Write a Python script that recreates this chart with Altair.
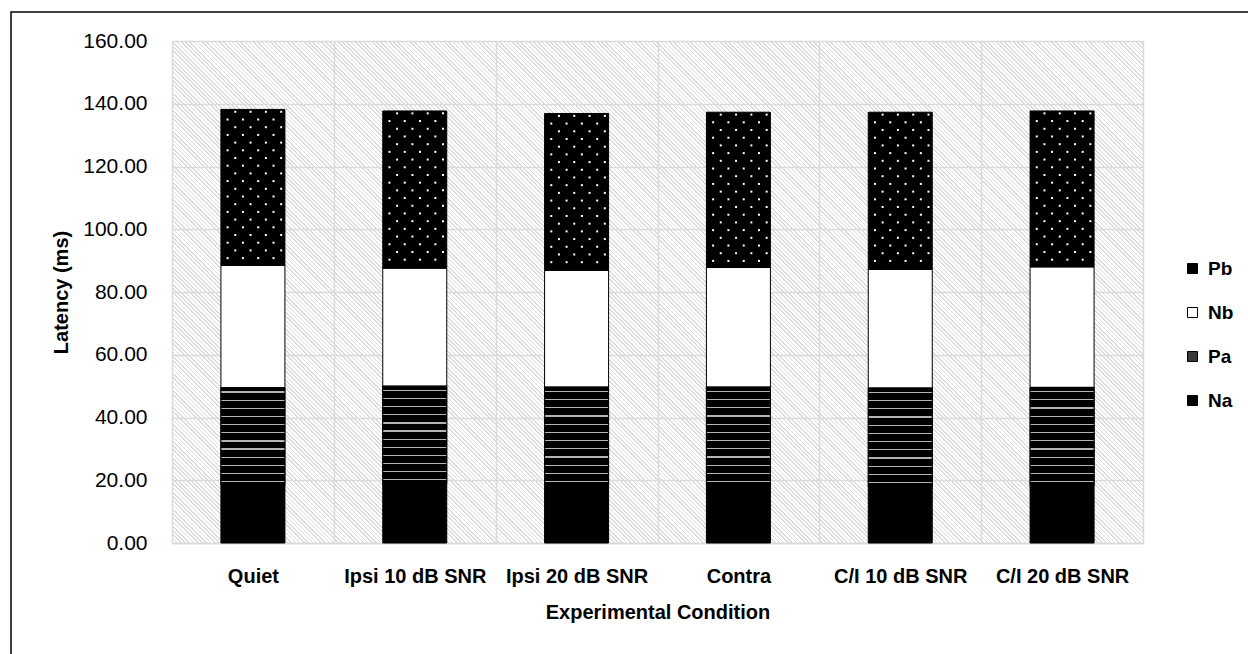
import altair as alt
import pandas as pd
import numpy as np

# ---------------- data ----------------
conditions = ["Quiet", "Ipsi 10 dB SNR", "Ipsi 20 dB SNR", "Contra", "C/I 10 dB SNR", "C/I 20 dB SNR"]
components = ["Na", "Pa", "Nb", "Pb"]
na_vals = [18.3, 18.9, 18.3, 18.3, 18.0, 18.3]
pa_vals = [31.2, 31.1, 31.4, 31.4, 31.4, 31.3]
nb_vals = [39.0, 37.6, 37.2, 38.1, 37.8, 38.4]
pb_vals = [49.7, 50.1, 50.0, 49.5, 50.1, 49.7]
y_ticks = [0, 20, 40, 60, 80, 100, 120, 140, 160]
legend_order = ["Pb", "Nb", "Pa", "Na"]

# ---------------- layout / style ----------------
W, H = 971, 502
PAD = {"left": 172, "top": 41, "right": 1248 - 172 - W, "bottom": 654 - 41 - H}
FONT = "Liberation Sans"
GRID = "#d9d9d9"
PX_PER_UNIT = H / 160.0
STEP = W / 6.0
BAR_FRAC = 64.0 / STEP

rows = []
for i, c in enumerate(conditions):
    base = 0.0
    for comp, vals in zip(components, [na_vals, pa_vals, nb_vals, pb_vals]):
        v = vals[i]
        rows.append(dict(condition=c, component=comp, y0=base, y1=base + v))
        base += v
df = pd.DataFrame(rows)

# dot texture rows for the Pb segments (derived from the segment extents)
dot_rows = []
pb_df = df[df.component == "Pb"]
for _, r in pb_df.iterrows():
    k = 0
    while True:
        yy = r.y1 - (2.4 + 7.7 * k) / PX_PER_UNIT
        if yy < r.y0 + 2.0 / PX_PER_UNIT:
            break
        dot_rows.append(dict(condition=r.condition, y=yy, parity=k % 2))
        k += 1
dots = pd.DataFrame(dot_rows)
dot_px = [-25.3 + 7.65 * k for k in range(8)]

# ---------------- gradients (textures) ----------------
def hatch_gradient():
    r = H / W
    n2 = 1 + r * r
    t0, t1 = -r / n2, 1 / n2
    L = (W + H) / np.sqrt(2)
    N = int(round(L / 3.0))
    stops = []
    gray, clear = "#dcdcdc", "rgba(255,255,255,0)"
    for j in range(N):
        a, b, c = j / N, (j + 0.38) / N, (j + 1) / N
        stops += [alt.GradientStop(offset=a, color=gray), alt.GradientStop(offset=b, color=gray),
                  alt.GradientStop(offset=b, color=clear), alt.GradientStop(offset=c, color=clear)]
    return alt.LinearGradient(gradient="linear", stops=stops,
                              x1=t0, y1=-r * t0, x2=t1, y2=-r * t1)

def wave_gradient():
    N = 12
    stops = []
    for j in range(N):
        a, b, c, d = j / N, (j + 0.45) / N, (j + 0.6) / N, (j + 1) / N
        stops += [alt.GradientStop(offset=a, color="#000000"), alt.GradientStop(offset=b, color="#000000"),
                  alt.GradientStop(offset=b, color="#b4b4b4"), alt.GradientStop(offset=c, color="#b4b4b4"),
                  alt.GradientStop(offset=c, color="#000000"), alt.GradientStop(offset=d, color="#000000")]
    return alt.LinearGradient(gradient="linear", stops=stops, x1=0, y1=0, x2=0, y2=1)

one = pd.DataFrame({"a": [0]})

x_scale = alt.Scale(paddingInner=0, paddingOuter=0)
x_enc = alt.X("condition:N", sort=conditions, scale=x_scale,
              axis=alt.Axis(title="Experimental Condition", labelAngle=0, tickBand="extent",
                            ticks=False, tickSize=0, domainColor=GRID, domainWidth=1.5,
                            grid=True, gridColor=GRID, gridWidth=1.5,
                            labelFont=FONT, labelFontSize=20, labelFontWeight="bold", labelColor="black",
                            labelPadding=23,
                            titleFont=FONT, titleFontSize=20, titleFontWeight="bold", titleColor="black",
                            titleX=W / 2, titleY=69, titleBaseline="middle", titleAlign="center"))
y_scale = alt.Scale(domain=[0, 160], nice=False)
y_axis = alt.Axis(title="Latency (ms)", values=y_ticks, format=".2f", domain=False, ticks=False, tickSize=0,
                  grid=True, gridColor=GRID, gridWidth=1.5,
                  labelFont=FONT, labelFontSize=21, labelColor="black", labelPadding=25,
                  titleFont=FONT, titleFontSize=20, titleFontWeight="bold", titleColor="black",
                  titleX=-111, titleY=H / 2, titleAngle=270, titleBaseline="middle", titleAlign="center")

hatch = alt.Chart(one).mark_rect(fill=hatch_gradient(), strokeWidth=0).encode(
    x=alt.value(0), x2=alt.value(W), y=alt.value(0), y2=alt.value(H))

bars = alt.Chart(df).mark_bar(stroke="black", strokeWidth=1,
                              width=alt.RelativeBandSize(BAR_FRAC)).encode(
    x=x_enc,
    y=alt.Y("y1:Q", scale=y_scale, axis=y_axis),
    y2="y0:Q",
    fill=alt.Fill("component:N",
                  scale=alt.Scale(domain=legend_order, range=["#000000", "#ffffff", "#3a3a3a", "#000000"]),
                  legend=alt.Legend(title=None, orient="none", legendX=1011, legendY=218,
                                    symbolType="square", symbolSize=100, symbolStrokeColor="black",
                                    symbolStrokeWidth=1, labelFont=FONT, labelFontSize=19,
                                    labelFontWeight="bold", labelColor="black", rowPadding=24,
                                    labelOffset=6)),
)

pa_tex = alt.Chart(df).transform_filter(alt.datum.component == "Pa").mark_bar(
    fill=wave_gradient(), stroke="black", strokeWidth=1,
    width=alt.RelativeBandSize(BAR_FRAC)).encode(
    x=alt.X("condition:N", sort=conditions), y=alt.Y("y1:Q"), y2="y0:Q")

dot_layers = []
for k, off in enumerate(dot_px):
    par = 0 if k % 2 == 1 else 1
    dot_layers.append(
        alt.Chart(dots).transform_filter(alt.datum.parity == par).mark_square(
            size=4, color="white", opacity=1, strokeWidth=0).encode(
            x=alt.X("condition:N", sort=conditions, bandPosition=0.5 + off / STEP),
            y=alt.Y("y:Q")))

border = alt.Chart(one).mark_rect(fill="transparent", stroke="black", strokeWidth=1.5).encode(
    x=alt.value(-161), x2=alt.value(1100), y=alt.value(-29), y2=alt.value(640))

chart = alt.layer(hatch, bars, pa_tex, *dot_layers, border).properties(
    width=W, height=H,
    autosize=alt.AutoSizeParams(type="none"),
    padding=PAD,
    background="white",
).configure_view(strokeWidth=0).configure(font=FONT)

chart.save("out.html", embed_options={"renderer": "svg", "actions": False})
